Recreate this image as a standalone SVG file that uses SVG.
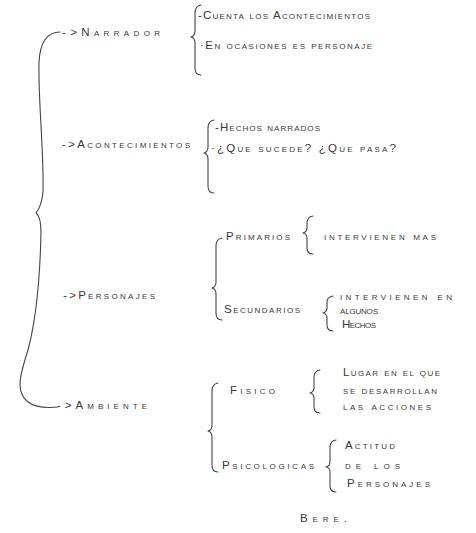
<svg xmlns="http://www.w3.org/2000/svg" width="476" height="533" viewBox="0 0 476 533">
<style>
.t{font-family:"Liberation Sans",Arial,sans-serif;font-size:11.5px;font-variant:small-caps;fill:#383838}
.b{fill:none;stroke:#444444;stroke-width:1.1;stroke-linecap:round;stroke-linejoin:round}
</style>
<rect width="476" height="533" fill="#ffffff"/>
<g id="connectors">
<path class="b" d="M60,32 C46,32 40,44 39,62 C38,100 44,150 43,192 C42,202 40,208 36,213 M36,213 C40,216 41,222 41,232 C40,280 36,320 28,350 C20,375 15,392 28,402 C36,408 48,408 58,407"/>
<path class="b" d="M201,5 Q195,6 195,13 L195,31 Q195,36 191,37 Q195,38 195,43 L195,68 Q195,75 201,75"/>
<path class="b" d="M214,120 Q208,121 208,128 L208,147 Q208,152 204,153 Q208,154 208,159 L208,186 Q208,193 214,193"/>
<path class="b" d="M222,238 Q216,239 216,246 L216,282 Q216,287 212,288 Q216,289 216,294 L216,313 Q216,320 222,320"/>
<path class="b" d="M313,216 Q307,217 307,223 L307,228 Q307,232 303,233 Q307,234 307,238 L307,248 Q307,254 313,254"/>
<path class="b" d="M333,296 Q327,297 327,302 L327,308 Q327,312 323,313 Q327,314 327,318 L327,325 Q327,331 333,331"/>
<path class="b" d="M218,383 Q212,384 212,391 L212,425 Q212,430 208,431 Q212,432 212,437 L212,465 Q212,472 218,472"/>
<path class="b" d="M320,370 Q314,371 314,377 L314,388 Q314,392 310,393 Q314,394 314,398 L314,407 Q314,413 320,413"/>
<path class="b" d="M336,440 Q330,441 330,447 L330,462 Q330,466 326,467 Q330,468 330,472 L330,486 Q330,492 336,492"/>
</g>
<g id="narrador">
<text class="t" x="62" y="36" textLength="98">-&gt;Narrador</text>
</g>
<g id="narrador-detalle">
<text class="t" x="198" y="19" textLength="172">-Cuenta los Acontecimientos</text>
<text class="t" x="200" y="49" textLength="172">·En ocasiones es personaje</text>
</g>
<g id="acontecimientos">
<text class="t" x="62" y="148" textLength="128">-&gt;Acontecimientos</text>
</g>
<g id="acontecimientos-detalle">
<text class="t" x="215" y="131" textLength="105">-Hechos narrados</text>
<text class="t" x="211" y="152" textLength="185">·¿Que sucede? ¿Que pasa?</text>
</g>
<g id="personajes">
<text class="t" x="63" y="299" textLength="92">-&gt;Personajes</text>
</g>
<g id="primarios">
<text class="t" x="226" y="240" textLength="64">Primarios</text>
<text class="t" x="324" y="240" textLength="112">intervienen mas</text>
</g>
<g id="secundarios">
<text class="t" x="224" y="313" textLength="76">Secundarios</text>
<text class="t" x="340" y="300" textLength="112">intervienen en</text>
<text class="t" x="340" y="314" textLength="38">algunos</text>
<text class="t" x="342" y="328" textLength="34">Hechos</text>
</g>
<g id="ambiente">
<text class="t" x="57" y="409" textLength="90">-&gt;Ambiente</text>
</g>
<g id="fisico">
<text class="t" x="230" y="394" textLength="45">Fisico</text>
<text class="t" x="343" y="376" textLength="97">Lugar en el que</text>
<text class="t" x="343" y="394" textLength="94">se desarrollan</text>
<text class="t" x="343" y="410" textLength="88">las acciones</text>
</g>
<g id="psicologicas">
<text class="t" x="222" y="469" textLength="92">Psicologicas</text>
<text class="t" x="345" y="449" textLength="50">Actitud</text>
<text class="t" x="345" y="469" textLength="55">de los</text>
<text class="t" x="347" y="487" textLength="83">Personajes</text>
</g>
<g id="firma">
<text class="t" x="300" y="522" textLength="47">Bere.</text>
</g>
</svg>
